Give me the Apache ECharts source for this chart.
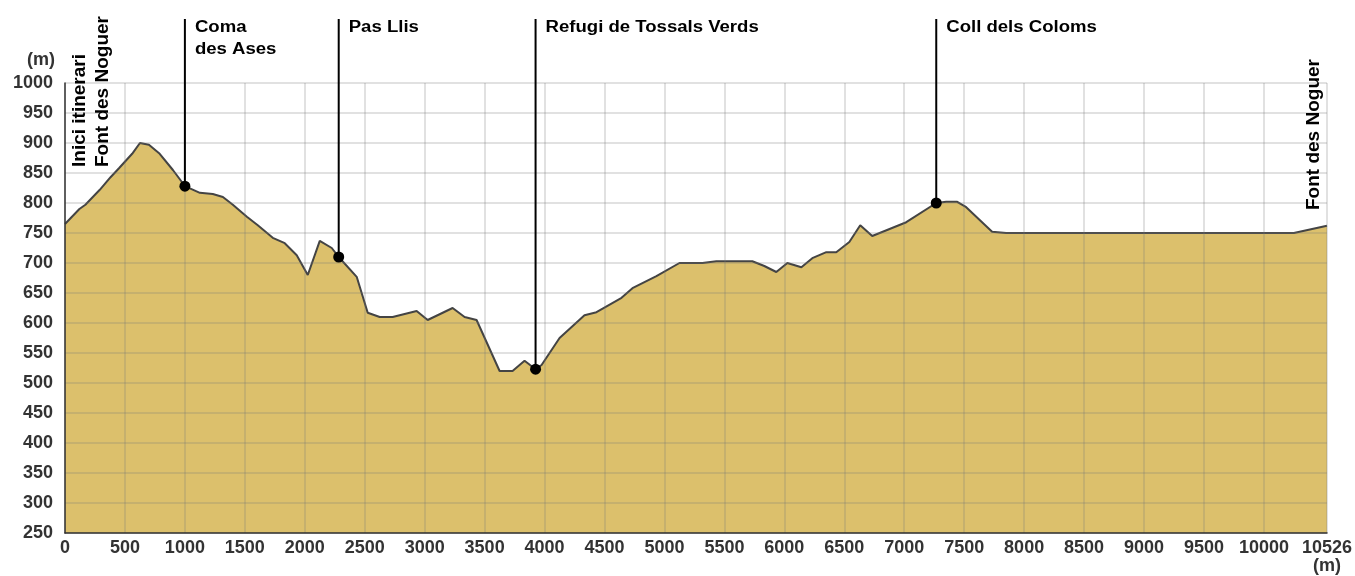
<!DOCTYPE html>
<html>
<head>
<meta charset="utf-8">
<script src="https://cdn.jsdelivr.net/npm/echarts@6/dist/echarts.min.js"></script>
<style>
html,body{margin:0;padding:0;background:#fff;}
#chart{width:1355px;height:576px;}
</style>
</head>
<body>
<div id="chart"></div>
<script>
// Profile: distance (m) and elevation (m)
const distances = [0,120,170,290,380,450,560,625,700,790,900,975,1000,1125,1233,1317,1400,1517,1608,1733,1833,1933,2025,2125,2225,2283,2433,2525,2625,2733,2933,3025,3233,3333,3433,3625,3733,3833,3925,3975,4125,4333,4433,4642,4733,4933,5125,5317,5433,5733,5833,5933,6025,6142,6233,6350,6433,6542,6633,6733,7017,7267,7350,7442,7517,7733,7850,10250,10526];
const elevations = [765,790,797,822,843,858,882,900,897,882,855,835,828,817,815,810,797,777,763,742,733,713,680,737,725,710,677,617,610,610,620,605,625,610,605,520,520,537,523,530,575,613,618,642,658,678,700,700,703,703,695,685,700,693,708,718,718,735,763,745,768,800,802,802,793,752,750,750,762];

// Waypoints
const waypointDist = [1000, 2283, 3925, 7267];
const waypointElev = [828, 710, 523, 800];
const waypointNames = ['Coma\ndes Ases', 'Pas Llis', 'Refugi de Tossals Verds', 'Coll dels Coloms'];

const startLabel = 'Inici itinerari\nFont des Noguer';
const endLabel = 'Font des Noguer';
const unitLabel = '(m)';

// Axis ticks
const xTickValues = [0,500,1000,1500,2000,2500,3000,3500,4000,4500,5000,5500,6000,6500,7000,7500,8000,8500,9000,9500,10000,10526];
const xMin = 0, xMax = 10526, xStep = 500;
const yMin = 250, yMax = 1000, yStep = 50;

const FONT = '"Liberation Sans", Arial, Helvetica, sans-serif';
const chart = echarts.init(document.getElementById('chart'), null, {renderer: 'canvas'});

const profile = distances.map((d, i) => [d, elevations[i]]);
const waypoints = waypointDist.map((d, i) => [d, waypointElev[i]]);

const gridLine = {show: true, lineStyle: {color: 'rgba(120,120,120,0.22)', width: 2}};

chart.setOption({
  animation: false,
  backgroundColor: '#fff',
  grid: {left: 65, right: 25, top: 83, bottom: 43, containLabel: false},
  xAxis: {
    type: 'value', min: xMin, max: xMax, interval: xStep, z: 3,
    axisLine: {show: true, onZero: false, lineStyle: {color: '#333', width: 1.5}},
    axisTick: {show: false, customValues: xTickValues},
    splitLine: gridLine,
    axisLabel: {
      customValues: xTickValues,
      margin: 6, color: '#333', fontSize: 18, fontWeight: 'bold', fontFamily: FONT, lineHeight: 18,
      formatter: v => v === xMax ? v + '\n' + unitLabel : String(v)
    }
  },
  yAxis: {
    type: 'value', min: yMin, max: yMax, interval: yStep, z: 3,
    axisLine: {show: true, onZero: false, lineStyle: {color: '#333', width: 1.5}},
    axisTick: {show: false},
    splitLine: gridLine,
    axisLabel: {margin: 12, color: '#333', fontSize: 18, fontWeight: 'bold', fontFamily: FONT, formatter: v => String(v)}
  },
  graphic: [
    {type: 'text', x: 41, y: 60, z: 10, style: {text: unitLabel, font: 'bold 18px ' + FONT, fill: '#333', align: 'center', textAlign: 'center', verticalAlign: 'middle', textVerticalAlign: 'middle'}},
    {type: 'text', x: 68.5, y: 167, rotation: Math.PI / 2, z: 10, style: {text: startLabel, font: 'bold 19px ' + FONT, fill: '#000', align: 'left', textAlign: 'left', verticalAlign: 'top', textVerticalAlign: 'top', lineHeight: 23}},
    {type: 'text', x: 1302.5, y: 210, rotation: Math.PI / 2, z: 10, style: {text: endLabel, font: 'bold 19px ' + FONT, fill: '#000', align: 'left', textAlign: 'left', verticalAlign: 'top', textVerticalAlign: 'top', lineHeight: 23}}
  ],
  series: [
    {
      type: 'line', data: profile, showSymbol: false, symbol: 'none', smooth: false, z: 2,
      lineStyle: {color: '#444', width: 2},
      areaStyle: {color: '#dcc06c', opacity: 1, origin: 'start'}
    },
    {
      type: 'custom', data: waypoints, clip: false, z: 10,
      encode: {x: 0, y: 1},
      renderItem: function (params, api) {
        const p = api.coord([api.value(0), api.value(1)]);
        const top = 19;
        return {
          type: 'group',
          children: [
            {type: 'line', shape: {x1: p[0], y1: top, x2: p[0], y2: p[1]}, style: {stroke: '#000', lineWidth: 2}},
            {type: 'circle', shape: {cx: p[0], cy: p[1], r: 5.5}, style: {fill: '#000'}},
            {type: 'text', x: p[0] + 10, y: top - 2, scaleX: 1.16, scaleY: 1,
              style: {text: waypointNames[params.dataIndex], font: 'bold 16px ' + FONT, fill: '#000', align: 'left', textAlign: 'left', verticalAlign: 'top', textVerticalAlign: 'top', lineHeight: 22}}
          ]
        };
      }
    }
  ]
});
</script>
</body>
</html>
